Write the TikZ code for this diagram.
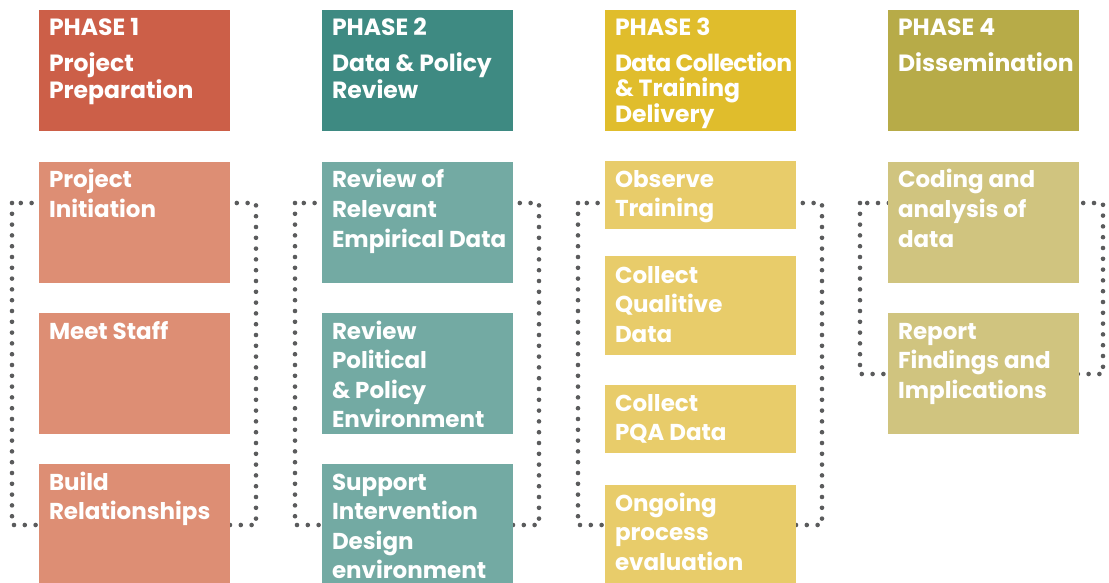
\documentclass[tikz,border=0pt]{standalone}
\usepackage{fontspec}
\setmainfont{Poppins}
\definecolor{hA}{HTML}{CC5F48}
\definecolor{iA}{HTML}{DD8E74}
\definecolor{hB}{HTML}{3E8A82}
\definecolor{iB}{HTML}{73AAA3}
\definecolor{hC}{HTML}{E0BD2C}
\definecolor{iC}{HTML}{E8CC6A}
\definecolor{hD}{HTML}{B7AB48}
\definecolor{iD}{HTML}{D0C47F}
\definecolor{dotc}{HTML}{5A5B5C}
\newcommand{\tlines}[1]{\parbox[t]{185pt}{\raggedright #1}}
\begin{document}
\begin{tikzpicture}[x=1pt,y=-1pt,
  box/.style={rectangle, inner sep=0pt, outer sep=0pt, minimum width=191pt, anchor=north west, draw=none},
  hd/.style={box, minimum height=121pt},
  txt/.style={anchor=base west, inner sep=0pt, outer sep=0pt, text=white, font=\fontsize{23}{29.5}\selectfont\bfseries},
  htxt/.style={txt, font=\fontsize{23.5}{24.5}\selectfont\bfseries},
  dots/.style={draw=dotc, line width=4.6pt, line cap=round, dash pattern=on 0pt off 10.8pt}]
\useasboundingbox (0,0) rectangle (1109,583);
% dotted frames
\coordinate (d1a) at (12,203); \coordinate (d1b) at (256,525);
\coordinate (d2a) at (295,203); \coordinate (d2b) at (539,525);
\coordinate (d3a) at (578,203); \coordinate (d3b) at (822,525);
\coordinate (d4a) at (860,203); \coordinate (d4b) at (1103,374);
\draw[dots] (d1a) rectangle (d1b);
\draw[dots] (d2a) rectangle (d2b);
\draw[dots] (d3a) rectangle (d3b);
\draw[dots] (d4a) rectangle (d4b);
% headers
\node[hd, fill=hA] (h1) at (39,10) {};
\node[hd, fill=hB] (h2) at (322,10) {};
\node[hd, fill=hC] (h3) at (605,10) {};
\node[hd, fill=hD] (h4) at (888,10) {};
\node[htxt] (p1) at ([xshift=10pt,yshift=-26pt]h1.north west) {PHASE 1};
\node[htxt] (p2) at ([xshift=10pt,yshift=-26pt]h2.north west) {PHASE 2};
\node[htxt] (p3) at ([xshift=10pt,yshift=-26pt]h3.north west) {PHASE 3};
\node[htxt] (p4) at ([xshift=10pt,yshift=-26pt]h4.north west) {PHASE 4};
\node[htxt] (n1) at ([xshift=10pt,yshift=-62pt]h1.north west) {\tlines{Project\\Preparation}};
\node[htxt] (n2) at ([xshift=10pt,yshift=-62pt]h2.north west) {\tlines{Data \& Policy\\Review}};
\node[htxt] (n3) at ([xshift=10pt,yshift=-62pt]h3.north west) {\tlines{{\addfontfeature{LetterSpace=-3}Data Collection}\\\& Training\\Delivery}};
\node[htxt] (n4) at ([xshift=10pt,yshift=-62pt]h4.north west) {Dissemination};
% column 1
\node[box, minimum height=121pt, fill=iA] (a1) at (39,162) {};
\node[box, minimum height=121pt, fill=iA] (a2) at (39,313) {};
\node[box, minimum height=121pt, fill=iA] (a3) at (39,464) {};
\node[txt] (ta1) at ([xshift=10pt,yshift=-26pt]a1.north west) {\tlines{Project\\Initiation}};
\node[txt] (ta2) at ([xshift=10pt,yshift=-26pt]a2.north west) {Meet Staff};
\node[txt] (ta3) at ([xshift=10pt,yshift=-26pt]a3.north west) {\tlines{Build\\Relationships}};
% column 2
\node[box, minimum height=121pt, fill=iB] (b1) at (322,162) {};
\node[box, minimum height=121pt, fill=iB] (b2) at (322,313) {};
\node[box, minimum height=121pt, fill=iB] (b3) at (322,464) {};
\node[txt] (tb1) at ([xshift=10pt,yshift=-26pt]b1.north west) {\tlines{Review of\\Relevant\\Empirical Data}};
\node[txt] (tb2) at ([xshift=10pt,yshift=-26pt]b2.north west) {\tlines{Review\\Political\\\& Policy\\Environment}};
\node[txt] (tb3) at ([xshift=10pt,yshift=-26pt]b3.north west) {\tlines{Support\\Intervention\\Design\\environment}};
% column 3
\node[box, minimum height=68pt, fill=iC] (c1) at (605,161) {};
\node[box, minimum height=99pt, fill=iC] (c2) at (605,256) {};
\node[box, minimum height=68pt, fill=iC] (c3) at (605,385) {};
\node[box, minimum height=100pt, fill=iC] (c4) at (605,485) {};
\node[txt] (tc1) at ([xshift=10pt,yshift=-26pt]c1.north west) {\tlines{Observe\\Training}};
\node[txt] (tc2) at ([xshift=10pt,yshift=-27pt]c2.north west) {\tlines{Collect\\Qualitive\\Data}};
\node[txt] (tc3) at ([xshift=10pt,yshift=-26pt]c3.north west) {\tlines{Collect\\PQA Data}};
\node[txt] (tc4) at ([xshift=10pt,yshift=-26pt]c4.north west) {\tlines{Ongoing\\process\\evaluation}};
% column 4
\node[box, minimum height=121pt, fill=iD] (e1) at (888,162) {};
\node[box, minimum height=121pt, fill=iD] (e2) at (888,313) {};
\node[txt] (te1) at ([xshift=10pt,yshift=-26pt]e1.north west) {\tlines{Coding and\\analysis of\\data}};
\node[txt] (te2) at ([xshift=10pt,yshift=-26pt]e2.north west) {\tlines{Report\\Findings and\\Implications}};
\end{tikzpicture}
\end{document}
